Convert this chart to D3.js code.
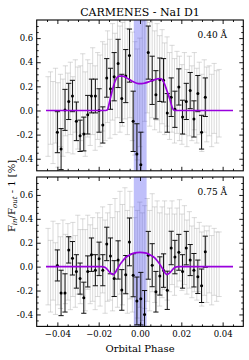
<!DOCTYPE html>
<html lang="en">
<head>
<meta charset="UTF-8" />
<title>CARMENES - NaI D1</title>
<style>
  body { margin: 0; background: #fff; }
  svg { display: block; background: #fff; }
  text { font-family: "DejaVu Serif", serif; fill: #000; }
</style>
</head>
<body>
<svg id="chart"></svg>
<script src="https://d3js.org/d3.v7.min.js"></script>
<script>
// ---------- data ----------
// binned points (black)
const binPhase = [-0.0400,-0.0382,-0.0363,-0.0345,-0.0327,-0.0308,-0.0290,-0.0272,-0.0253,-0.0235,
  -0.0216,-0.0198,-0.0180,-0.0161,-0.0143,-0.0125,-0.0106,-0.0088,-0.0069,-0.0051,
  -0.0033,-0.0015,0.0004,0.0022,0.0040,0.0059,0.0077,0.0096,0.0114,0.0132,
  0.0151,0.0169,0.0188,0.0206,0.0224,0.0243,0.0261,0.0280,0.0298,0.0316];
const binTop = [-0.18,-0.32,0.005,0.075,0.12,-0.09,-0.21,-0.195,-0.035,0.12,
  0.12,0.0,-0.12,0.27,0.18,0.28,0.39,0.10,0.285,0.455,
  -0.09,-0.36,-0.45,null,0.48,0.25,0.13,0.255,0.25,-0.02,
  0.11,0.01,0.195,-0.055,0.075,0.165,-0.07,0.14,-0.18,0.11];
const binTopErr = [0.17,0.17,0.17,0.15,0.13,0.16,0.13,0.14,0.16,0.14,
  0.14,0.18,0.15,0.16,0.17,0.20,0.20,0.20,0.22,0.22,
  0.25,0.25,0.27,0.25,0.22,0.20,0.20,0.18,0.18,0.16,
  0.16,0.15,0.15,0.14,0.15,0.15,0.15,0.15,0.14,0.16];
const binBottom = [0.01,-0.22,-0.22,0.14,0.07,-0.04,-0.10,-0.26,-0.04,0.10,
  -0.03,0.065,-0.03,0.19,0.09,-0.10,0.056,-0.195,-0.067,0.207,
  -0.072,-0.287,-0.268,-0.40,0.095,0.012,-0.21,-0.078,-0.033,-0.198,
  0.156,0.08,0.12,-0.04,0.155,0.055,-0.03,-0.085,-0.16,0.125];
const binBottomErr = [0.13,0.19,0.16,0.11,0.14,0.14,0.13,0.13,0.13,0.14,
  0.13,0.14,0.13,0.14,0.15,0.15,0.16,0.17,0.16,0.20,
  0.18,0.20,0.22,0.20,0.20,0.18,0.17,0.16,0.14,0.16,
  0.14,0.14,0.15,0.14,0.14,0.13,0.14,0.14,0.14,0.13];

// individual spectra (grey)
const rawPhase = [-0.0445,-0.0433,-0.0421,-0.0409,-0.0397,-0.0385,-0.0373,-0.0361,-0.0349,-0.0337,
  -0.0325,-0.0313,-0.0301,-0.0289,-0.0277,-0.0265,-0.0253,-0.0241,-0.0229,-0.0217,
  -0.0205,-0.0193,-0.0181,-0.0169,-0.0157,-0.0145,-0.0133,-0.0121,-0.0109,-0.0097,
  -0.0085,-0.0073,-0.0061,-0.0049,-0.0037,-0.0025,-0.0013,-0.0001,0.0011,0.0023,
  0.0035,0.0047,0.0059,0.0071,0.0083,0.0095,0.0107,0.0119,0.0131,0.0143,
  0.0155,0.0167,0.0179,0.0191,0.0203,0.0215,0.0227,0.0239,0.0251,0.0263,
  0.0275,0.0287,0.0299,0.0311,0.0323,0.0335,0.0347,0.0359,0.0371,0.0383];
const rawTop = [-0.05,0.02,-0.10,0.04,-0.12,0.00,-0.06,0.08,-0.02,0.10,
  -0.04,0.12,0.02,0.06,0.14,-0.03,0.10,0.05,0.16,0.02,
  0.12,0.08,0.20,0.15,0.28,0.18,0.32,0.22,0.35,0.26,
  0.30,0.38,0.24,0.40,0.20,0.10,0.05,0.15,0.28,0.35,
  0.42,0.30,0.36,0.25,0.32,0.22,0.28,0.18,0.24,0.12,
  0.18,0.08,0.15,0.10,0.05,0.14,0.02,0.12,0.06,0.16,
  0.04,0.10,-0.02,0.12,0.05,0.08,0.00,0.10,0.03,0.06];
const rawTopErr = [0.33,0.30,0.34,0.31,0.35,0.30,0.32,0.29,0.33,0.30,
  0.32,0.30,0.34,0.31,0.33,0.35,0.32,0.34,0.36,0.35,
  0.36,0.38,0.37,0.40,0.38,0.41,0.40,0.42,0.41,0.44,
  0.43,0.45,0.44,0.46,0.45,0.47,0.46,0.45,0.46,0.44,
  0.44,0.43,0.42,0.41,0.40,0.40,0.39,0.38,0.37,0.36,
  0.36,0.35,0.34,0.35,0.33,0.34,0.32,0.33,0.31,0.32,
  0.31,0.30,0.32,0.30,0.31,0.29,0.30,0.29,0.30,0.28];
const rawBottom = [0.00,-0.08,0.05,-0.10,0.02,-0.05,0.08,-0.02,0.04,-0.06,
  0.06,-0.04,0.10,0.00,0.08,-0.03,0.12,0.02,0.06,-0.02,
  0.10,0.04,0.14,0.00,0.08,0.12,0.02,0.16,0.06,0.20,
  0.10,0.22,0.04,0.18,0.06,-0.05,0.02,0.10,0.00,0.08,
  0.14,0.05,0.20,0.10,0.16,0.06,0.12,0.18,0.08,0.14,
  0.20,0.10,0.16,0.22,0.12,0.18,0.08,0.14,0.04,0.10,
  0.02,0.08,-0.02,0.05,0.00,0.06,-0.03,0.04,0.00,0.02];
const rawBottomErr = [0.32,0.30,0.33,0.30,0.34,0.30,0.31,0.29,0.32,0.30,
  0.31,0.30,0.33,0.31,0.32,0.34,0.31,0.33,0.35,0.34,
  0.35,0.37,0.36,0.39,0.37,0.40,0.39,0.41,0.40,0.43,
  0.42,0.44,0.43,0.45,0.44,0.46,0.45,0.44,0.45,0.43,
  0.43,0.42,0.41,0.40,0.39,0.39,0.38,0.37,0.36,0.35,
  0.35,0.34,0.33,0.34,0.32,0.33,0.31,0.32,0.30,0.31,
  0.30,0.29,0.31,0.29,0.30,0.28,0.29,0.28,0.29,0.27];

// model curves
const modelTopPhase = [-0.0455,-0.0165,-0.0158,-0.0145,-0.0132,-0.0121,-0.0110,-0.0100,-0.0085,-0.0064,
  -0.0040,-0.0016,0.0000,0.0020,0.0050,0.0080,0.0095,0.0108,0.0120,0.0129,
  0.0145,0.0155,0.0161,0.0170,0.0450];
const modelTop = [0,0,0.005,0.09,0.18,0.24,0.275,0.285,0.285,0.27,
  0.245,0.226,0.222,0.226,0.242,0.26,0.265,0.255,0.215,0.17,
  0.09,0.03,0.008,0,0];
const modelBottomPhase = [-0.0455,-0.0185,-0.0170,-0.0155,-0.0142,-0.0130,-0.0120,-0.0110,-0.0098,-0.0085,
  -0.0070,-0.0050,-0.0030,0.0000,0.0030,0.0050,0.0070,0.0085,0.0098,0.0110,
  0.0120,0.0130,0.0142,0.0155,0.0170,0.0185,0.0450];
const modelBottom = [0,0,-0.005,-0.03,-0.055,-0.066,-0.05,-0.02,0.015,0.045,
  0.075,0.098,0.113,0.12,0.113,0.098,0.075,0.045,0.015,-0.02,
  -0.05,-0.066,-0.055,-0.03,-0.005,0,0];

const transitBand = [-0.003, 0.0032];
const panelLabels = ["0.40 Å", "0.75 Å"];
const xTicks = [-0.04, -0.02, 0, 0.02, 0.04];
const yTicks = [-0.4, -0.2, 0, 0.2, 0.4, 0.6];

// ---------- layout ----------
const width = 249, height = 360;
const svg = d3.select("#chart").attr("width", width).attr("height", height);

const x = d3.scaleLinear().domain([-0.05, 0.05]).range([36.7, 243.3]);
const yDomain = [-0.5, 0.75];

const panels = [
  { y0: 20, y1: 170.8, bin: binTop, binErr: binTopErr, raw: rawTop, rawErr: rawTopErr,
    mPhase: modelTopPhase, model: modelTop, label: panelLabels[0], xLabels: false },
  { y0: 177, y1: 326.4, bin: binBottom, binErr: binBottomErr, raw: rawBottom, rawErr: rawBottomErr,
    mPhase: modelBottomPhase, model: modelBottom, label: panelLabels[1], xLabels: true }
];

const fmtY = v => d3.format(".1f")(v).replace("\u2212", "-");
const fmtX = v => v === 0 ? "0.00" : d3.format(".2f")(v);
const cap = 2.6;

panels.forEach((p, k) => {
  const y = d3.scaleLinear().domain(yDomain).range([p.y1, p.y0]);
  const g = svg.append("g");

  svg.append("clipPath").attr("id", "clip" + k)
    .append("rect")
    .attr("x", x.range()[0]).attr("y", p.y0)
    .attr("width", x.range()[1] - x.range()[0]).attr("height", p.y1 - p.y0);

  const plot = g.append("g").attr("clip-path", `url(#clip${k})`);

  // grey individual error bars
  const rawData = rawPhase.map((ph, i) => ({ ph, v: p.raw[i], e: p.rawErr[i] }));
  const rg = plot.append("g").attr("stroke", "#b8b8b8").attr("stroke-opacity", 0.5).attr("stroke-width", 1);
  rawData.forEach(d => {
    const cx = x(d.ph);
    rg.append("line").attr("x1", cx).attr("x2", cx).attr("y1", y(d.v - d.e)).attr("y2", y(d.v + d.e));
    [d.v - d.e, d.v + d.e].forEach(v => {
      rg.append("line").attr("x1", cx - cap).attr("x2", cx + cap).attr("y1", y(v)).attr("y2", y(v));
    });
  });

  // transit band
  plot.append("rect")
    .attr("x", x(transitBand[0])).attr("width", x(transitBand[1]) - x(transitBand[0]))
    .attr("y", p.y0).attr("height", p.y1 - p.y0)
    .attr("fill", "#3c3cf0").attr("fill-opacity", 0.33);

  // black binned error bars
  const binData = binPhase.map((ph, i) => ({ ph, v: p.bin[i], e: p.binErr[i] })).filter(d => d.v !== null);
  const bg = plot.append("g").attr("stroke", "#111").attr("stroke-width", 1);
  binData.forEach(d => {
    const cx = x(d.ph);
    bg.append("line").attr("x1", cx).attr("x2", cx).attr("y1", y(d.v - d.e)).attr("y2", y(d.v + d.e));
    [d.v - d.e, d.v + d.e].forEach(v => {
      bg.append("line").attr("x1", cx - cap).attr("x2", cx + cap).attr("y1", y(v)).attr("y2", y(v));
    });
  });
  plot.append("g").selectAll("circle").data(binData).enter().append("circle")
    .attr("cx", d => x(d.ph)).attr("cy", d => y(d.v)).attr("r", 1.5).attr("fill", "#000");

  // model
  const line = d3.line().x(d => x(d[0])).y(d => y(d[1])).curve(d3.curveMonotoneX);
  plot.append("path")
    .datum(p.mPhase.map((ph, i) => [ph, p.model[i]]))
    .attr("d", line)
    .attr("fill", "none").attr("stroke", "#9900dd").attr("stroke-width", 1.7);

  // axes (ticks inward on all sides)
  const minorY = d3.range(-0.45, 0.75, 0.05).filter(v => Math.abs(Math.round(v * 5) - v * 5) > 1e-6);
  const minorX = d3.range(-0.045, 0.05, 0.005).filter(v => Math.abs(Math.round(v * 50) - v * 50) > 1e-6);

  const axL = g.append("g").attr("transform", `translate(${x.range()[0]},0)`)
    .call(d3.axisLeft(y).tickValues(yTicks).tickSize(-4).tickPadding(3.5).tickFormat(fmtY));
  g.append("g").attr("transform", `translate(${x.range()[0]},0)`)
    .call(d3.axisLeft(y).tickValues(minorY).tickSize(-2).tickFormat(""));
  g.append("g").attr("transform", `translate(${x.range()[1]},0)`)
    .call(d3.axisRight(y).tickValues(yTicks).tickSize(-4).tickFormat(""));
  g.append("g").attr("transform", `translate(${x.range()[1]},0)`)
    .call(d3.axisRight(y).tickValues(minorY).tickSize(-2).tickFormat(""));

  g.append("g").attr("transform", `translate(0,${p.y1})`)
    .call(d3.axisBottom(x).tickValues(xTicks).tickSize(-4).tickPadding(5).tickFormat(p.xLabels ? fmtX : ""));
  g.append("g").attr("transform", `translate(0,${p.y1})`)
    .call(d3.axisBottom(x).tickValues(minorX).tickSize(-2).tickFormat(""));
  g.append("g").attr("transform", `translate(0,${p.y0})`)
    .call(d3.axisTop(x).tickValues(xTicks).tickSize(-4).tickFormat(""));
  g.append("g").attr("transform", `translate(0,${p.y0})`)
    .call(d3.axisTop(x).tickValues(minorX).tickSize(-2).tickFormat(""));

  g.selectAll(".domain").remove();
  g.selectAll(".tick line").attr("stroke", "#000").attr("stroke-width", 0.9);
  g.selectAll(".tick text").attr("font-family", "DejaVu Serif").attr("font-size", 8.5).attr("fill", "#000");

  // frame
  g.append("rect")
    .attr("x", x.range()[0]).attr("y", p.y0)
    .attr("width", x.range()[1] - x.range()[0]).attr("height", p.y1 - p.y0)
    .attr("fill", "none").attr("stroke", "#000").attr("stroke-width", 1.1);

  // width annotation
  g.append("text")
    .attr("x", 227).attr("y", p.y0 + 17.5)
    .attr("text-anchor", "end").attr("font-size", 9)
    .text(p.label);
});

// title and axis labels
svg.append("text")
  .attr("x", 140).attr("y", 16.3)
  .attr("text-anchor", "middle").attr("font-size", 11)
  .text("CARMENES - NaI D1");

svg.append("text")
  .attr("x", 140).attr("y", 351.5)
  .attr("text-anchor", "middle").attr("font-size", 10)
  .text("Orbital Phase");

const yl = svg.append("text")
  .attr("transform", "translate(14.5,196) rotate(-90)")
  .attr("text-anchor", "middle").attr("font-size", 10);
yl.append("tspan").text("F");
yl.append("tspan").attr("font-size", 7).attr("font-style", "italic").attr("dy", 2).text("in");
yl.append("tspan").attr("dy", -2).text("/F");
yl.append("tspan").attr("font-size", 7).attr("font-style", "italic").attr("dy", 2).text("out");
yl.append("tspan").attr("dy", -2).text(" - 1 [%]");
</script>
</body>
</html>
